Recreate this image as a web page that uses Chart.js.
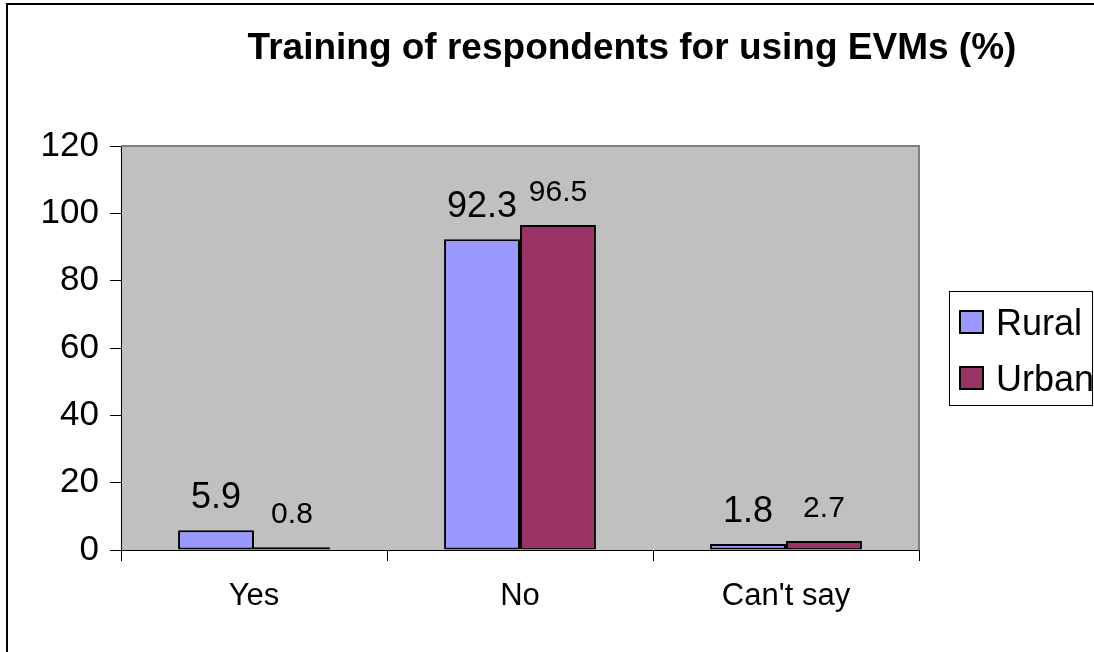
<!DOCTYPE html>
<html>
<head>
<meta charset="utf-8">
<script src="https://cdn.jsdelivr.net/npm/chart.js@4/dist/chart.umd.min.js"></script>
<style>
  body { margin: 0; background: #fff; }
  #wrap { width: 1094px; height: 652px; }
</style>
</head>
<body>
<div id="wrap"><canvas id="evmChart" width="1094" height="652"></canvas></div>
<script>
// ---------------- DATA ----------------
const categories = ["Yes", "No", "Can't say"];
const ruralValues = [5.9, 92.3, 1.8];
const urbanValues = [0.8, 96.5, 2.7];
const seriesNames = ["Rural", "Urban"];
const titleText = "Training of respondents for using EVMs (%)";

const FONT = "'Liberation Sans', Arial, sans-serif";
const RURAL_COLOR = "#9999FF";
const URBAN_COLOR = "#993366";

// plot background + frame + outer border
const framePlugin = {
    id: "frame",
    beforeDraw(chart) {
        const { ctx, chartArea: a } = chart;
        ctx.save();
        ctx.fillStyle = "#fff";
        ctx.fillRect(0, 0, chart.width, chart.height);
        ctx.fillStyle = "#C0C0C0";
        ctx.fillRect(a.left, a.top, a.right - a.left, a.bottom - a.top);
        ctx.restore();
    },
    afterDraw(chart) {
        const { ctx, chartArea: a } = chart;
        ctx.save();
        // gray frame top/right
        ctx.strokeStyle = "#808080";
        ctx.lineWidth = 2;
        ctx.beginPath();
        ctx.moveTo(a.left, a.top);
        ctx.lineTo(a.right, a.top);
        ctx.lineTo(a.right, a.bottom);
        ctx.stroke();
        // outer chart border (only left/top visible)
        ctx.fillStyle = "#000";
        ctx.fillRect(6, 3, 2, chart.height);
        ctx.fillRect(6, 3, chart.width, 2);

        // title
        ctx.fillStyle = "#000";
        ctx.font = "bold 37px " + FONT;
        ctx.textAlign = "center";
        ctx.textBaseline = "alphabetic";
        ctx.fillText(titleText, 632, 59);

        // legend
        ctx.strokeStyle = "#000";
        ctx.lineWidth = 1;
        ctx.strokeRect(949.5, 291.5, 143, 114);
        const colors = [RURAL_COLOR, URBAN_COLOR];
        ctx.font = "36px " + FONT;
        ctx.textAlign = "left";
        seriesNames.forEach((name, i) => {
            const y = 311 + i * 56;
            ctx.fillStyle = colors[i];
            ctx.fillRect(960, y, 23, 22);
            ctx.lineWidth = 2;
            ctx.strokeRect(960, y, 23, 22);
            ctx.fillStyle = "#000";
            ctx.fillText(name, 996, y + 24);
        });
        ctx.restore();
    }
};

// value labels above bars
const valueLabels = {
    id: "valueLabels",
    afterDatasetsDraw(chart) {
        const { ctx } = chart;
        ctx.save();
        ctx.fillStyle = "#000";
        ctx.textAlign = "center";
        ctx.textBaseline = "alphabetic";
        chart.data.datasets.forEach((ds, di) => {
            const meta = chart.getDatasetMeta(di);
            ctx.font = (di === 0 ? "36px " : "30px ") + FONT;
            const gap = di === 0 ? 22 : 24;
            meta.data.forEach((bar, i) => {
                ctx.fillText(String(ds.data[i]), bar.x, bar.y - gap);
            });
        });
        ctx.restore();
    }
};

const ctx = document.getElementById("evmChart");
new Chart(ctx, {
    type: "bar",
    data: {
        labels: categories,
        datasets: [{
            label: seriesNames[0],
            data: ruralValues,
            backgroundColor: RURAL_COLOR,
            borderColor: "#000",
            borderWidth: 2,
            borderSkipped: false,
        }, {
            label: seriesNames[1],
            data: urbanValues,
            backgroundColor: URBAN_COLOR,
            borderColor: "#000",
            borderWidth: 2,
            borderSkipped: false,
        }]
    },
    options: {
        responsive: false,
        animation: false,
        devicePixelRatio: 1,
        categoryPercentage: 0.571,
        barPercentage: 1,
        layout: { padding: { top: 146, right: 175, left: 0, bottom: 0 } },
        plugins: {
            legend: { display: false },
            title: { display: false },
            tooltip: { enabled: false }
        },
        scales: {
            x: {
                afterFit: (s) => { s.height = 102; },
                grid: {
                    offset: true,
                    drawOnChartArea: false,
                    drawTicks: true,
                    tickLength: 11,
                    color: "#000",
                },
                border: { color: "#000", width: 1 },
                ticks: {
                    color: "#000",
                    padding: 17,
                    font: { family: FONT, size: 31 }
                }
            },
            y: {
                min: 0,
                max: 120,
                afterFit: (s) => { s.width = 121; },
                grid: {
                    drawOnChartArea: false,
                    drawTicks: true,
                    tickLength: 11,
                    color: "#000",
                },
                border: { color: "#000", width: 1 },
                ticks: {
                    stepSize: 20,
                    color: "#000",
                    padding: 11,
                    font: { family: FONT, size: 35 }
                }
            }
        }
    },
    plugins: [framePlugin, valueLabels]
});
</script>
</body>
</html>
